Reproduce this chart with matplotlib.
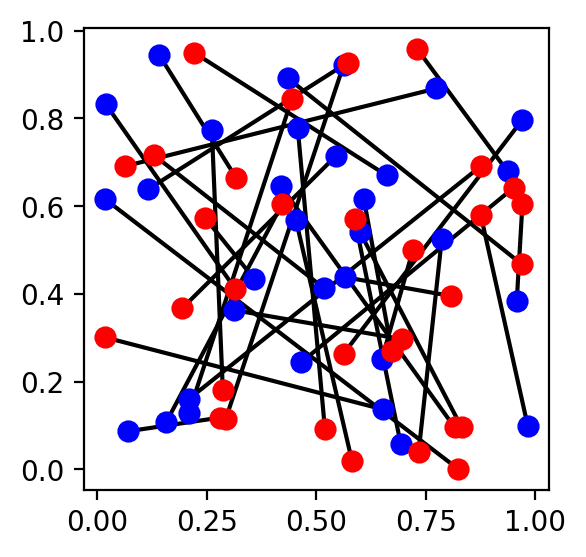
import numpy as np
import matplotlib
matplotlib.use("Agg")
import matplotlib.pyplot as plt

# blue points and the red point each one is matched to (same index)
blue_x = [0.142, 0.436, 0.020, 0.262, 0.458, 0.116, 0.420, 0.018, 0.454, 0.563, 0.774,
          0.971, 0.545, 0.661, 0.937, 0.609, 0.600, 0.787, 0.958, 0.566, 0.518, 0.650,
          0.466, 0.652, 0.983, 0.693, 0.358, 0.313, 0.209, 0.209, 0.158, 0.071]
blue_y = [0.944, 0.891, 0.832, 0.773, 0.779, 0.638, 0.645, 0.616, 0.568, 0.922, 0.868,
          0.797, 0.714, 0.670, 0.679, 0.616, 0.541, 0.526, 0.383, 0.438, 0.413, 0.251,
          0.244, 0.137, 0.100, 0.059, 0.435, 0.363, 0.160, 0.128, 0.108, 0.087]
red_x = [0.317, 0.969, 0.315, 0.287, 0.520, 0.572, 0.816, 0.823, 0.582, 0.294, 0.064,
         0.563, 0.194, 0.221, 0.730, 0.673, 0.832, 0.734, 0.971, 0.809, 0.130, 0.721,
         0.951, 0.018, 0.876, 0.588, 0.246, 0.695, 0.876, 0.445, 0.422, 0.280]
red_y = [0.665, 0.468, 0.412, 0.182, 0.093, 0.927, 0.096, 0.002, 0.019, 0.116, 0.691,
         0.264, 0.367, 0.950, 0.959, 0.269, 0.096, 0.039, 0.604, 0.395, 0.716, 0.500,
         0.642, 0.301, 0.579, 0.570, 0.574, 0.297, 0.691, 0.845, 0.604, 0.118]

fig, ax = plt.subplots(figsize=(3, 3), dpi=200)

# matching lines
for bx, by, rx, ry in zip(blue_x, blue_y, red_x, red_y):
    ax.plot([bx, rx], [by, ry], 'k-', lw=1.5)

ax.plot(blue_x, blue_y, 'o', color='blue', markersize=7, linestyle='none')
ax.plot(red_x, red_y, 'o', color='red', markersize=7, linestyle='none')

plt.savefig('out.png', dpi=200, bbox_inches='tight')
